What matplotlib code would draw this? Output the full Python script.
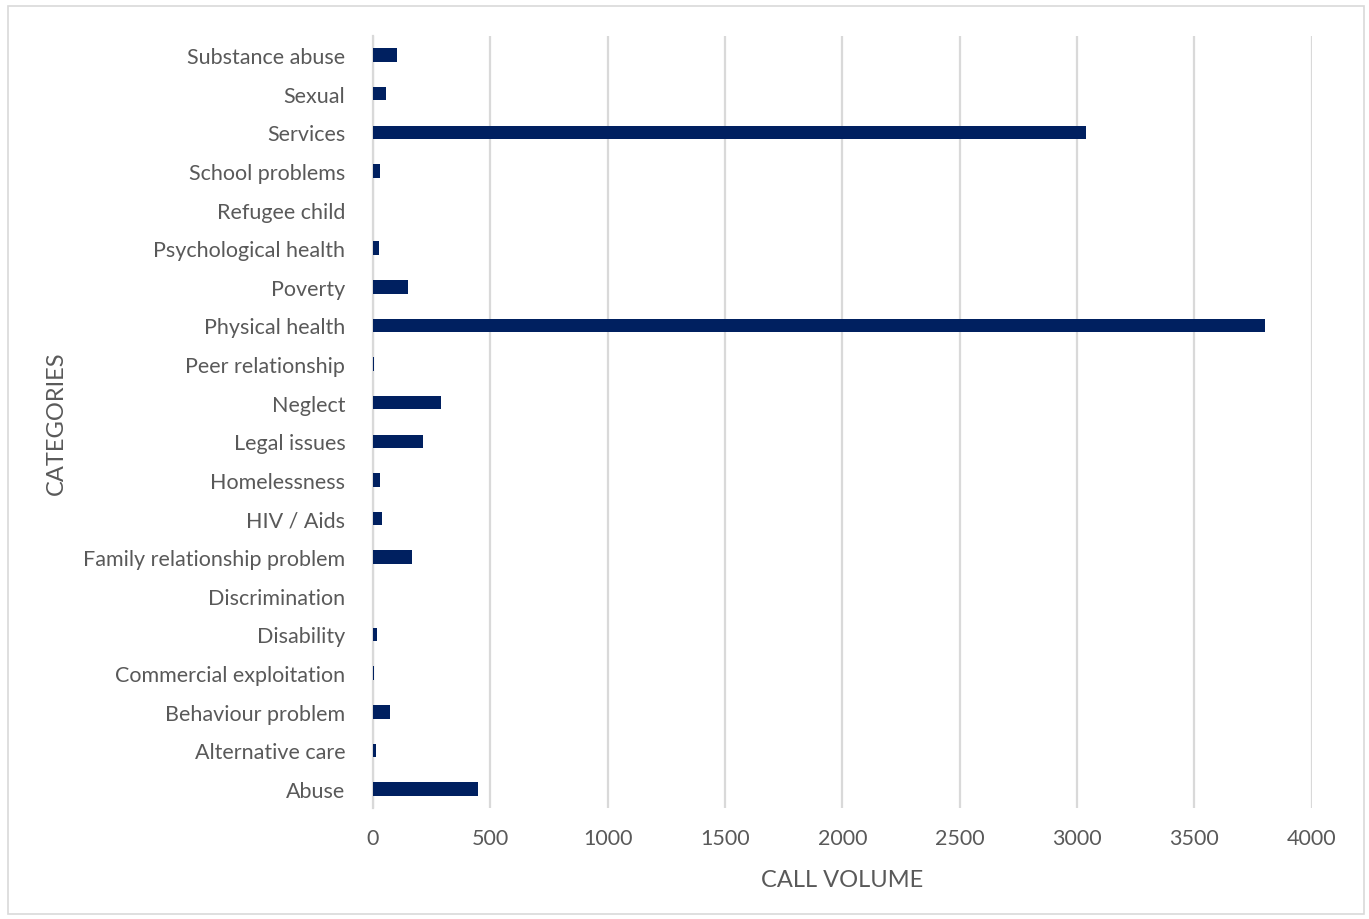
import matplotlib.pyplot as plt
from matplotlib.patches import Rectangle

# Call volume per category (bottom to top as drawn)
categories = [
    "Abuse", "Alternative care", "Behaviour problem", "Commercial exploitation",
    "Disability", "Discrimination", "Family relationship problem", "HIV / Aids",
    "Homelessness", "Legal issues", "Neglect", "Peer relationship",
    "Physical health", "Poverty", "Psychological health", "Refugee child",
    "School problems", "Services", "Sexual", "Substance abuse",
]
call_volume = [
    447, 12, 74, 6,
    16, 0, 165, 40,
    31, 213, 291, 3,
    3802, 149, 26, 0,
    31, 3038, 57, 100,
]
x_ticks = [0, 500, 1000, 1500, 2000, 2500, 3000, 3500, 4000]

text_color = "#595959"
bar_color = "#002060"
grid_color = "#d9d9d9"

plt.rcParams["font.family"] = ["Lato", "DejaVu Sans"]

fig = plt.figure(figsize=(13.69, 9.2), dpi=100)
ax = fig.add_axes([0.2725, 0.1203, 0.6857, 0.8398])

ypos = list(range(len(categories)))
ax.barh(ypos, call_volume, height=0.35, color=bar_color, zorder=3)

ax.set_xlim(0, 4000)
ax.set_ylim(-0.5, len(categories) - 0.5)
ax.set_xticks(x_ticks)
ax.set_xticklabels([str(t) for t in x_ticks], fontsize=15.5, color=text_color)
ax.set_yticks(ypos)
ax.set_yticklabels(categories, fontsize=15.5, color=text_color)
ax.tick_params(axis="y", length=0, pad=20)
ax.tick_params(axis="x", length=0, pad=14)

ax.grid(axis="x", color=grid_color, linewidth=1.6, zorder=0)
for side in ["top", "right", "bottom"]:
    ax.spines[side].set_visible(False)
ax.spines["left"].set_color(grid_color)
ax.spines["left"].set_linewidth(1.6)

ax.set_xlabel("CALL VOLUME", fontsize=17, color=text_color, labelpad=15)
ax.set_ylabel("CATEGORIES", fontsize=17, color=text_color, labelpad=12)

# light frame around the whole chart
fig.patches.append(Rectangle((0.006, 0.005), 0.99, 0.987, transform=fig.transFigure,
                             fill=False, edgecolor=grid_color, linewidth=1.2))

fig.savefig("out.png", dpi=100, facecolor="white")
